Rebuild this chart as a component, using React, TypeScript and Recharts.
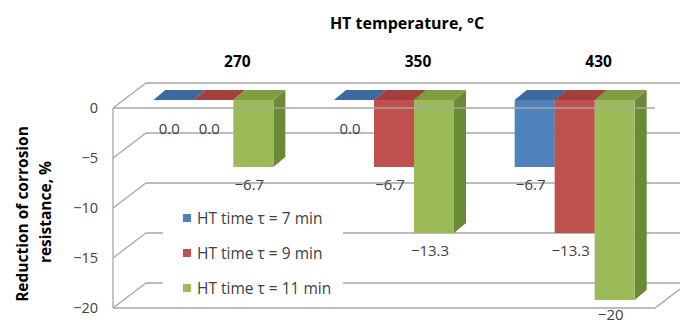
import { BarChart, Bar, XAxis, YAxis, CartesianGrid, ReferenceLine, Legend, LabelList } from "recharts";

const categories = ["270", "350", "430"];
const time7 = [0, 0, -6.7];
const time9 = [0, -6.7, -13.3];
const time11 = [-6.7, -13.3, -20];
const seriesNames = ["HT time τ = 7 min", "HT time τ = 9 min", "HT time τ = 11 min"];
const yTicks = [0, -5, -10, -15, -20];

const data = categories.map((temp, i) => ({ temp, t7: time7[i], t9: time9[i], t11: time11[i] }));

// front / top / side shades for each series
const palette = [
  { front: "#4F81BD", top: "#3C699E", side: "#365D8C" },
  { front: "#C0504D", top: "#A3403D", side: "#8E3735" },
  { front: "#9BBB59", top: "#7F9E43", side: "#6B8A35" },
];

const FONT = "'Open Sans', 'Liberation Sans', sans-serif";
const GRID = "#A6A6A6";
// depth of the walls, offset of bar fronts from the front plane, depth of the bars
const WALL_DX = 33;
const WALL_DY = -25;
const FRONT_DX = 10;
const FRONT_DY = -8;
const BAR_DX = 12;
const BAR_DY = -10;

const fmt = (v: number) => (v === 0 ? "0.0" : "\u2212" + Math.abs(v));
const fmtTick = (v: number) => (v === 0 ? "0" : "\u2212" + Math.abs(v));

function Box3D(props: any) {
  const { x, y, width, height, colors } = props;
  const h = Math.abs(height);
  const fx = x + FRONT_DX;
  const fy = Math.min(y, y + height) + FRONT_DY;
  const topFace = `${fx},${fy} ${fx + BAR_DX},${fy + BAR_DY} ${fx + width + BAR_DX},${fy + BAR_DY} ${fx + width},${fy}`;
  const sideFace = `${fx + width},${fy} ${fx + width + BAR_DX},${fy + BAR_DY} ${fx + width + BAR_DX},${fy + h + BAR_DY} ${fx + width},${fy + h}`;
  return (
    <g>
      {h > 0 && <polygon points={sideFace} fill={colors.side} />}
      {h > 0 && <rect x={fx} y={fy} width={width} height={h} fill={colors.front} />}
      <polygon points={topFace} fill={colors.top} />
    </g>
  );
}

function ValueLabel(props: any) {
  const { x, y, width, height, value } = props;
  const bottom = Math.max(y, y + height) + FRONT_DY;
  const cx = x + FRONT_DX + width / 2 - 4;
  const ty = bottom + (value === 0 ? 30 : 19);
  return (
    <text x={cx} y={Math.min(ty, 316)} textAnchor="middle" dominantBaseline="middle" fontSize={15} fontFamily={FONT} fill="#404040">
      {fmt(value)}
    </text>
  );
}

// horizontal gridline drawn as side-wall diagonal plus back-wall line
function WallLine(props: any) {
  const { x1, y1, x2, index } = props;
  const last = index === yTicks.length - 1;
  return (
    <g key={`wall-${index}`}>
      <line x1={x1} y1={y1} x2={x1 + WALL_DX} y2={y1 + WALL_DY} stroke={GRID} strokeWidth={1.3} />
      <line x1={x1 + WALL_DX} y1={y1 + WALL_DY} x2={x2 + WALL_DX} y2={y1 + WALL_DY} stroke={GRID} strokeWidth={1.3} />
      {last && <line x1={x2} y1={y1} x2={x2 + WALL_DX} y2={y1 + WALL_DY} stroke={GRID} strokeWidth={1.3} />}
    </g>
  );
}

function CategoryTick(props: any) {
  const { x, payload } = props;
  return (
    <text x={x + 34} y={67} textAnchor="middle" fontSize={15.5} fontWeight="bold" fontFamily={FONT} fill="#000">
      {payload.value}
    </text>
  );
}

function LegendBox(props: any) {
  const items = [...(props.payload || [])].sort(
    (a: any, b: any) => seriesNames.indexOf(a.value) - seriesNames.indexOf(b.value)
  );
  return (
    <div style={{ background: "#fff", padding: "6px 0 0 20px", height: 107, boxSizing: "border-box" }}>
      {items.map((p: any, i: number) => (
        <div key={i} style={{ display: "flex", alignItems: "center", height: 35, fontFamily: FONT, fontSize: 15.5, color: "#404040", whiteSpace: "nowrap" }}>
          <span style={{ width: 8, height: 8, background: p.color, marginRight: 6, display: "inline-block" }} />
          {p.value}
        </div>
      ))}
    </div>
  );
}

export default function App() {
  return (
    <div style={{ position: "absolute", left: 0, top: 0, width: 680, height: 323, background: "#fff" }}>
      <BarChart
        width={680}
        height={323}
        data={data}
        margin={{ top: 68, right: 25, bottom: 15, left: 53 }}
        barCategoryGap="16.8%"
        barGap={0}
      >
        <CartesianGrid vertical={false} horizontal={(p: any) => <WallLine {...p} />} />
        <XAxis
          dataKey="temp"
          orientation="top"
          height={40}
          axisLine={false}
          tickLine={false}
          tick={<CategoryTick />}
          label={{
            content: () => (
              <text x={407} y={29} textAnchor="middle" fontSize={16} fontWeight="bold" fontFamily={FONT} fill="#000">
                HT temperature, °C
              </text>
            ),
          }}
        />
        <YAxis
          type="number"
          domain={[-20, 0]}
          ticks={yTicks}
          width={60}
          tickSize={0}
          tickMargin={15}
          tickFormatter={fmtTick}
          tick={{ fontSize: 14.5, fontFamily: FONT, fill: "#404040" }}
          axisLine={{ stroke: GRID, strokeWidth: 1.3 }}
          tickLine={false}
          label={{
            content: () => (
              <g fontSize={15.5} fontWeight="bold" fontFamily={FONT} fill="#000" textAnchor="middle">
                <text transform="translate(28,214) rotate(-90)">Reduction of corrosion</text>
                <text transform="translate(51,212) rotate(-90)">resistance, %</text>
              </g>
            ),
          }}
        />
        <Bar dataKey="t7" name={seriesNames[0]} fill={palette[0].front} isAnimationActive={false} shape={(p: any) => <Box3D {...p} colors={palette[0]} />}>
          <LabelList dataKey="t7" content={<ValueLabel />} />
        </Bar>
        <Bar dataKey="t9" name={seriesNames[1]} fill={palette[1].front} isAnimationActive={false} shape={(p: any) => <Box3D {...p} colors={palette[1]} />}>
          <LabelList dataKey="t9" content={<ValueLabel />} />
        </Bar>
        <Bar dataKey="t11" name={seriesNames[2]} fill={palette[2].front} isAnimationActive={false} shape={(p: any) => <Box3D {...p} colors={palette[2]} />}>
          <LabelList dataKey="t11" content={<ValueLabel />} />
        </Bar>
        <ReferenceLine y={0} stroke={GRID} strokeWidth={1.3} />
        <ReferenceLine y={-20} stroke={GRID} strokeWidth={1.3} />
        <Legend
          layout="vertical"
          align="center"
          verticalAlign="middle"
          content={<LegendBox />}
          wrapperStyle={{ position: "absolute", left: 163, top: 194, width: 180, height: 107 }}
        />
      </BarChart>
    </div>
  );
}
